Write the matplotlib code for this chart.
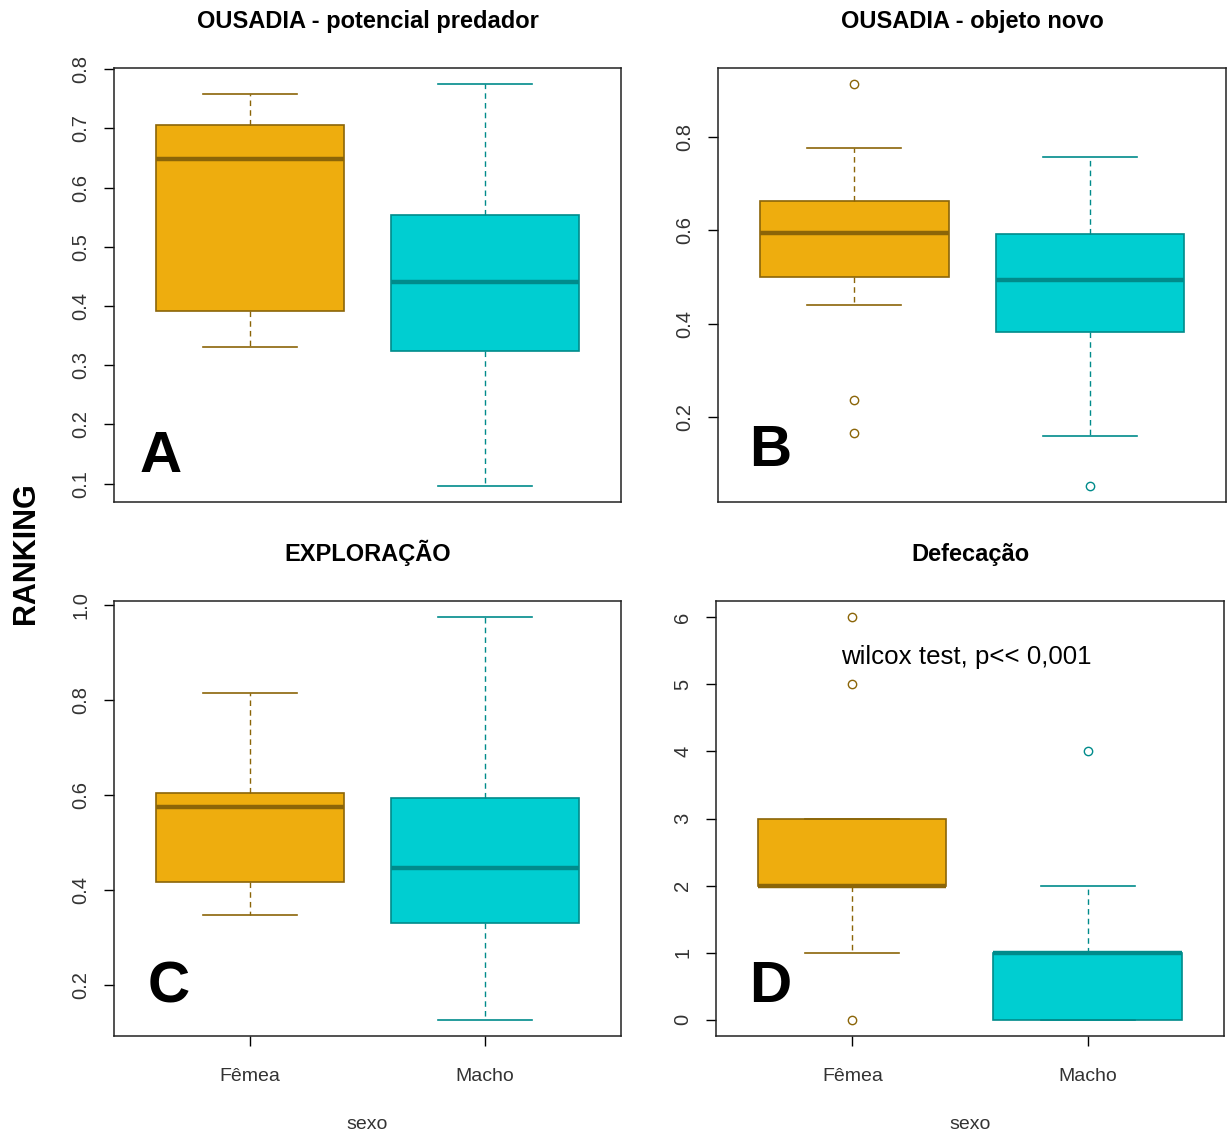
import matplotlib
matplotlib.use("Agg")
import matplotlib.pyplot as plt

plt.rcParams['font.family'] = ['Liberation Sans', 'DejaVu Sans']

groups = ["Fêmea", "Macho"]

# A - ousadia, potencial predador
pred_whislo = [0.330, 0.096]
pred_q1 = [0.391, 0.324]
pred_med = [0.648, 0.441]
pred_q3 = [0.706, 0.553]
pred_whishi = [0.758, 0.775]
pred_fliers = [[], []]

# B - ousadia, objeto novo
obj_whislo = [0.441, 0.160]
obj_q1 = [0.501, 0.382]
obj_med = [0.595, 0.493]
obj_q3 = [0.663, 0.593]
obj_whishi = [0.777, 0.757]
obj_fliers = [[0.913, 0.236, 0.166], [0.053]]

# C - exploracao
exp_whislo = [0.348, 0.126]
exp_q1 = [0.417, 0.331]
exp_med = [0.574, 0.447]
exp_q3 = [0.605, 0.593]
exp_whishi = [0.816, 0.975]
exp_fliers = [[], []]

# D - defecacao
def_whislo = [1, 0]
def_q1 = [2, 0]
def_med = [2, 1]
def_q3 = [3, 1]
def_whishi = [3, 2]
def_fliers = [[6, 5, 0], [4]]

fills = ["#EEAD0E", "#00CED1"]
borders = ["#8B6508", "#008B8B"]

fig = plt.figure(figsize=(12.31, 11.33), dpi=100)

# title, letter, axes rect, letter pos (axes frac), stats, yticks, show x axis
panels = [
    ("OUSADIA - potencial predador", "A", [0.0926, 0.5569, 0.4119, 0.3831], (0.051, 0.069),
     (pred_whislo, pred_q1, pred_med, pred_q3, pred_whishi, pred_fliers), [0.1, 0.2, 0.3, 0.4, 0.5, 0.6, 0.7, 0.8], False),
    ("OUSADIA - objeto novo", "B", [0.5833, 0.5569, 0.4127, 0.3831], (0.061, 0.083),
     (obj_whislo, obj_q1, obj_med, obj_q3, obj_whishi, obj_fliers), [0.2, 0.4, 0.6, 0.8], False),
    ("EXPLORAÇÃO", "C", [0.0926, 0.0856, 0.4119, 0.3839], (0.067, 0.078),
     (exp_whislo, exp_q1, exp_med, exp_q3, exp_whishi, exp_fliers), [0.2, 0.4, 0.6, 0.8, 1.0], True),
    ("Defecação", "D", [0.5816, 0.0856, 0.4127, 0.3839], (0.065, 0.078),
     (def_whislo, def_q1, def_med, def_q3, def_whishi, def_fliers), [0, 1, 2, 3, 4, 5, 6], True),
]

axes = []
for title, letter, pos, lpos, st, yt, bottom in panels:
    ax = fig.add_axes(pos)
    lo, q1, med, q3, hi, fl = st
    for i in range(2):
        s = dict(whislo=lo[i], q1=q1[i], med=med[i], q3=q3[i],
                 whishi=hi[i], fliers=fl[i])
        b = ax.bxp([s], positions=[i + 1], widths=0.8, patch_artist=True,
                   capwidths=0.4, manage_ticks=False)
        for p in b['boxes']:
            p.set_facecolor(fills[i])
            p.set_edgecolor(borders[i])
            p.set_linewidth(1.2)
        for m in b['medians']:
            m.set_color(borders[i])
            m.set_linewidth(3.2)
            m.set_solid_capstyle('butt')
        for w in b['whiskers']:
            w.set_color(borders[i])
            w.set_linestyle((0, (4, 3)))
            w.set_linewidth(1.0)
        for c in b['caps']:
            c.set_color(borders[i])
            c.set_linewidth(1.2)
        for f in b['fliers']:
            f.set_marker('o')
            f.set_markerfacecolor('none')
            f.set_markeredgecolor(borders[i])
            f.set_markersize(6)
            f.set_markeredgewidth(1.0)

    vals = lo + hi + [v for g in fl for v in g]
    vmin, vmax = min(vals), max(vals)
    pad = 0.04 * (vmax - vmin)
    ax.set_ylim(vmin - pad, vmax + pad)
    ax.set_xlim(0.42, 2.58)
    ax.set_yticks(yt)
    ax.set_yticklabels([str(v) for v in yt], rotation=90, va='center',
                       fontsize=14.5, color='#333333')
    ax.tick_params(axis='y', length=7, width=1, pad=10)
    for sp in ax.spines.values():
        sp.set_linewidth(1.1)
        sp.set_color('#222222')
    if bottom:
        ax.set_xticks([1, 2])
        ax.set_xticklabels(groups, fontsize=14, color='#333333')
        ax.tick_params(axis='x', length=7, width=1, pad=16)
        ax.set_xlabel("sexo", fontsize=14, color='#333333', labelpad=22)
    else:
        ax.set_xticks([])
    ax.set_title(title, fontsize=17, fontweight='bold', pad=29)
    ax.text(lpos[0], lpos[1], letter, transform=ax.transAxes, fontsize=42,
            fontweight='bold', ha='left', va='baseline')
    axes.append(ax)

axes[3].text(1.483, 5.40, "wilcox test, p<< 0,001", fontsize=18.6,
             ha='center', va='center')

fig.text(0.021, 0.512, "RANKING", rotation=90, fontsize=22, fontweight='bold',
         ha='center', va='center')

fig.savefig("out.png", dpi=100)
